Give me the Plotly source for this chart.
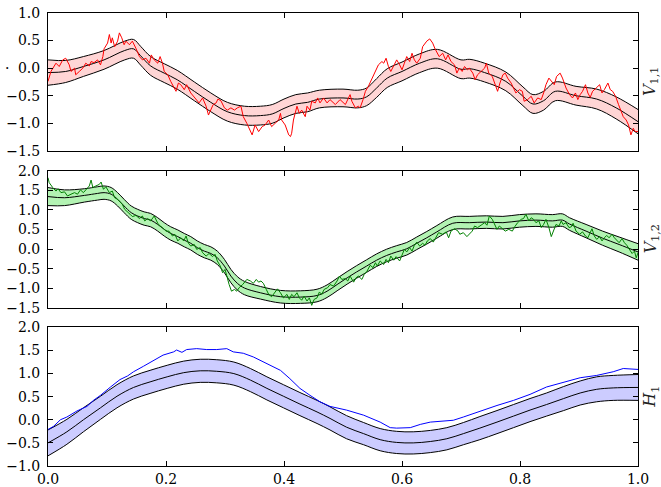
import plotly.graph_objects as go

# ---------------- data ----------------
x_ticks = [0.0, 0.2, 0.4, 0.6, 0.8, 1.0]
x_ticktext = ["0.0", "0.2", "0.4", "0.6", "0.8", "1.0"]

# Panel 1: V_{1,1}
v11_x = [0.0, 0.03, 0.06, 0.095, 0.13, 0.145, 0.157, 0.174, 0.197, 0.219, 0.248, 0.276, 0.304, 0.333,
         0.36, 0.38, 0.40, 0.42, 0.44, 0.46, 0.50, 0.525, 0.54, 0.557, 0.575, 0.60, 0.63, 0.66,
         0.70, 0.715, 0.74, 0.776, 0.805, 0.822, 0.84, 0.86, 0.895, 0.93, 0.963, 1.0]
v11_mean = [-0.08, -0.06, 0.03, 0.15, 0.32, 0.35, 0.225, 0.04, -0.09, -0.21, -0.42, -0.62, -0.79, -0.86,
            -0.86, -0.83, -0.73, -0.65, -0.62, -0.56, -0.54, -0.56, -0.52, -0.36, -0.18, -0.06, 0.09, 0.17,
            -0.02, -0.01, -0.08, -0.24, -0.51, -0.65, -0.59, -0.42, -0.50, -0.56, -0.72, -0.97]
v11_hw = [0.23, 0.2, 0.18, 0.17, 0.17, 0.17, 0.17, 0.17, 0.17, 0.17, 0.17, 0.17, 0.17, 0.17,
          0.17, 0.17, 0.17, 0.17, 0.17, 0.16, 0.16, 0.16, 0.16, 0.17, 0.17, 0.17, 0.17, 0.17,
          0.17, 0.17, 0.17, 0.17, 0.17, 0.17, 0.17, 0.17, 0.17, 0.18, 0.2, 0.22]
v11_obs_x = [0.0, 0.005, 0.0135, 0.019, 0.025, 0.030, 0.036, 0.039, 0.045, 0.047, 0.053, 0.059, 0.064, 0.070,
             0.073, 0.078, 0.084, 0.089, 0.093, 0.095, 0.101, 0.104, 0.107, 0.109, 0.113, 0.118, 0.121, 0.125,
             0.129, 0.132, 0.138, 0.143, 0.149, 0.155, 0.160, 0.166, 0.172, 0.175, 0.180, 0.186, 0.190, 0.194,
             0.197, 0.203, 0.208, 0.214, 0.217, 0.221, 0.225, 0.231, 0.235, 0.242, 0.251, 0.256, 0.262, 0.268,
             0.272, 0.276, 0.280, 0.285, 0.288, 0.293, 0.299, 0.304, 0.310, 0.316, 0.321, 0.327, 0.331,
             0.337, 0.346, 0.351, 0.357, 0.363, 0.368, 0.374, 0.379, 0.385, 0.391, 0.394, 0.396, 0.402,
             0.408, 0.411, 0.413, 0.416, 0.422, 0.426, 0.430, 0.436, 0.439, 0.444, 0.447, 0.453, 0.457,
             0.461, 0.467, 0.473, 0.478, 0.487, 0.495, 0.504, 0.509, 0.512, 0.515, 0.521, 0.526, 0.529,
             0.534, 0.538, 0.543, 0.551, 0.555, 0.560, 0.566, 0.569, 0.573, 0.577, 0.581, 0.586, 0.591,
             0.596, 0.600, 0.604, 0.608, 0.613, 0.617, 0.621, 0.625, 0.631, 0.635, 0.642, 0.647, 0.652,
             0.656, 0.663, 0.669, 0.674, 0.678, 0.683, 0.689, 0.693, 0.697, 0.702, 0.706, 0.711, 0.714,
             0.720, 0.724, 0.728, 0.734, 0.740, 0.743, 0.747, 0.753, 0.758, 0.762, 0.766, 0.771, 0.775,
             0.779, 0.785, 0.789, 0.793, 0.799, 0.804, 0.807, 0.813, 0.819, 0.824, 0.830, 0.836, 0.840,
             0.844, 0.849, 0.853, 0.858, 0.862, 0.868, 0.872, 0.878, 0.884, 0.889, 0.894, 0.898, 0.902,
             0.906, 0.911, 0.915, 0.919, 0.923, 0.929, 0.935, 0.939, 0.943, 0.949, 0.953, 0.957, 0.962,
             0.967, 0.971, 0.975, 0.980, 0.984, 0.988, 0.992, 0.995, 1.0]
v11_obs = [-0.24, -0.06, 0.09, 0.03, 0.15, 0.18, 0.06, -0.06, 0.0, -0.12, -0.06, 0.0, 0.09, 0.04,
           0.12, 0.10, 0.15, 0.06, 0.21, 0.35, 0.455, 0.61, 0.455, 0.55, 0.39, 0.49, 0.64, 0.55,
           0.425, 0.49, 0.425, 0.49, 0.36, 0.21, 0.15, 0.18, 0.09, 0.24, 0.15, 0.09, 0.21, 0.09,
           -0.06, -0.12, -0.24, -0.36, -0.42, -0.27, -0.30, -0.39, -0.30, -0.45, -0.57, -0.63, -0.54, -0.69,
           -0.85, -0.76, -0.66, -0.63, -0.56, -0.59, -0.72, -0.76, -0.72, -0.76, -0.72, -0.69, -0.88,
           -1.0, -1.21, -1.03, -1.15, -1.06, -1.03, -0.94, -1.06, -1.0, -0.94, -0.82, -0.94, -1.03,
           -1.21, -1.24, -1.18, -0.94, -0.69, -0.82, -0.76, -0.88, -0.69, -0.76, -0.60, -0.63, -0.54,
           -0.63, -0.54, -0.63, -0.57, -0.66, -0.57, -0.66, -0.54, -0.48, -0.60, -0.72, -0.69, -0.72,
           -0.57, -0.42, -0.33, -0.15, -0.06, 0.06, 0.12, 0.09, 0.18, 0.03, -0.06, 0.06, 0.15,
           0.06, -0.03, 0.09, 0.21, 0.12, 0.27, 0.15, 0.09, 0.18, 0.39, 0.49, 0.53, 0.455,
           0.35, 0.21, 0.27, 0.15, 0.24, 0.12, 0.06, -0.09, 0.0, -0.06, 0.03, -0.03, 0.0,
           -0.09, -0.21, -0.12, -0.06, 0.0, 0.09, -0.09, -0.15, -0.30, -0.42, -0.27, -0.12, -0.09,
           -0.18, -0.27, -0.36, -0.45, -0.39, -0.42, -0.60, -0.57, -0.51, -0.63, -0.54, -0.57, -0.45,
           -0.30, -0.18, -0.24, -0.30, -0.15, -0.09, -0.18, -0.36, -0.48, -0.54, -0.45, -0.57, -0.48,
           -0.42, -0.30, -0.45, -0.53, -0.42, -0.36, -0.30, -0.45, -0.39, -0.27, -0.39, -0.42, -0.51,
           -0.66, -0.76, -0.88, -0.94, -1.03, -1.21, -1.09, -1.15, -1.15]

# Panel 2: V_{1,2}
v12_x = [0.0, 0.028, 0.062, 0.084, 0.095, 0.107, 0.118, 0.129, 0.141, 0.152, 0.163, 0.174, 0.186, 0.197,
         0.208, 0.220, 0.231, 0.242, 0.253, 0.265, 0.276, 0.287, 0.299, 0.310, 0.321, 0.333, 0.36, 0.394,
         0.428, 0.456, 0.473, 0.49, 0.507, 0.523, 0.54, 0.557, 0.574, 0.591, 0.608, 0.625, 0.642, 0.659,
         0.686, 0.714, 0.743, 0.771, 0.799, 0.827, 0.855, 0.872, 0.884, 0.912, 0.94, 0.968, 1.0]
v12_mean = [1.34, 1.31, 1.37, 1.42, 1.44, 1.40, 1.27, 1.10, 0.93, 0.845, 0.78, 0.74, 0.63, 0.505,
            0.40, 0.32, 0.23, 0.15, 0.04, -0.05, -0.11, -0.22, -0.43, -0.685, -0.87, -0.99, -1.11, -1.21,
            -1.22, -1.18, -1.07, -0.90, -0.73, -0.58, -0.43, -0.28, -0.16, -0.07, 0.01, 0.15, 0.29, 0.44,
            0.66, 0.675, 0.69, 0.675, 0.72, 0.74, 0.72, 0.74, 0.64, 0.46, 0.28, 0.12, -0.07]
v12_hw = [0.23, 0.2, 0.17, 0.17, 0.17, 0.17, 0.17, 0.17, 0.17, 0.17, 0.17, 0.17, 0.17, 0.17,
          0.17, 0.17, 0.17, 0.17, 0.17, 0.17, 0.17, 0.17, 0.17, 0.17, 0.17, 0.17, 0.16, 0.16,
          0.16, 0.16, 0.16, 0.16, 0.16, 0.16, 0.16, 0.16, 0.16, 0.16, 0.16, 0.16, 0.16, 0.16,
          0.16, 0.16, 0.16, 0.16, 0.16, 0.16, 0.16, 0.16, 0.16, 0.17, 0.18, 0.19, 0.21]
v12_obs_x = [0.0, 0.002, 0.008, 0.0135, 0.017, 0.022, 0.028, 0.033, 0.039, 0.045, 0.050, 0.055, 0.060, 0.066,
             0.070, 0.073, 0.076, 0.081, 0.087, 0.090, 0.094, 0.098, 0.104, 0.109, 0.113, 0.118, 0.122, 0.126,
             0.130, 0.135, 0.139, 0.143, 0.149, 0.155, 0.160, 0.164, 0.169, 0.174, 0.180, 0.186, 0.190, 0.194,
             0.200, 0.205, 0.211, 0.215, 0.220, 0.225, 0.230, 0.234, 0.238, 0.242, 0.248, 0.252, 0.258, 0.262,
             0.268, 0.273, 0.279, 0.283, 0.287, 0.292, 0.296, 0.300, 0.304, 0.307, 0.311, 0.316, 0.320, 0.324,
             0.330, 0.333, 0.337, 0.343, 0.348, 0.353, 0.357, 0.361, 0.365, 0.370, 0.374, 0.379, 0.385, 0.389,
             0.394, 0.399, 0.405, 0.409, 0.413, 0.417, 0.422, 0.426, 0.430, 0.434, 0.439, 0.443, 0.447, 0.451,
             0.456, 0.460, 0.464, 0.468, 0.474, 0.478, 0.484, 0.490, 0.494, 0.498, 0.504, 0.508, 0.512, 0.518,
             0.522, 0.526, 0.532, 0.536, 0.540, 0.546, 0.551, 0.555, 0.558, 0.563, 0.569, 0.573, 0.577, 0.581,
             0.586, 0.590, 0.596, 0.600, 0.604, 0.608, 0.613, 0.617, 0.621, 0.625, 0.630, 0.635, 0.639, 0.643,
             0.648, 0.653, 0.658, 0.662, 0.669, 0.675, 0.679, 0.683, 0.689, 0.695, 0.698, 0.704, 0.710, 0.714,
             0.719, 0.723, 0.728, 0.734, 0.740, 0.744, 0.748, 0.753, 0.757, 0.761, 0.765, 0.771, 0.775, 0.781,
             0.787, 0.791, 0.796, 0.802, 0.806, 0.810, 0.815, 0.819, 0.823, 0.827, 0.832, 0.836, 0.840, 0.844,
             0.849, 0.853, 0.857, 0.861, 0.866, 0.870, 0.873, 0.878, 0.883, 0.887, 0.890, 0.895, 0.901, 0.906,
             0.911, 0.915, 0.919, 0.922, 0.926, 0.930, 0.935, 0.939, 0.943, 0.947, 0.951, 0.956, 0.960, 0.964,
             0.968, 0.973, 0.977, 0.981, 0.985, 0.990, 0.994, 0.997, 1.0]
v12_obs = [1.82, 1.695, 1.57, 1.48, 1.54, 1.44, 1.46, 1.355, 1.40, 1.44, 1.40, 1.51, 1.44, 1.54,
           1.61, 1.76, 1.57, 1.61, 1.65, 1.71, 1.525, 1.59, 1.44, 1.48, 1.31, 1.27, 1.20, 1.14,
           1.015, 0.93, 0.89, 0.83, 0.86, 0.78, 0.845, 0.72, 0.78, 0.72, 0.845, 0.66, 0.59, 0.55,
           0.46, 0.46, 0.335, 0.38, 0.21, 0.29, 0.21, 0.335, 0.15, 0.08, 0.12, -0.005, 0.04, -0.09,
           -0.175, -0.11, -0.19, -0.13, -0.30, -0.43, -0.60, -0.515, -0.77, -0.90, -1.07, -1.025, -1.07, -0.98,
           -0.90, -0.855, -0.77, -0.81, -0.87, -0.77, -0.84, -0.81, -0.87, -1.025, -1.15, -1.21, -1.09, -1.01,
           -1.11, -1.24, -1.15, -1.28, -1.15, -1.21, -1.11, -1.24, -1.30, -1.195, -1.32, -1.24, -1.43, -1.28,
           -1.24, -1.09, -1.15, -1.025, -0.98, -0.90, -0.94, -0.81, -0.685, -0.77, -0.75, -0.81, -0.685, -0.84,
           -0.73, -0.685, -0.77, -0.64, -0.58, -0.41, -0.47, -0.345, -0.43, -0.30, -0.39, -0.26, -0.345, -0.175,
           -0.28, -0.19, -0.30, -0.13, -0.005, -0.07, 0.04, -0.05, 0.10, 0.18, 0.08, 0.15, 0.10, 0.21,
           0.27, 0.18, 0.335, 0.42, 0.38, 0.44, 0.29, 0.46, 0.52, 0.46, 0.38, 0.42, 0.32, 0.38,
           0.46, 0.59, 0.55, 0.61, 0.675, 0.61, 0.845, 0.76, 0.63, 0.505, 0.59, 0.505, 0.46, 0.505,
           0.46, 0.57, 0.675, 0.76, 0.78, 0.89, 0.72, 0.80, 0.76, 0.675, 0.72, 0.55, 0.63, 0.76,
           0.55, 0.32, 0.505, 0.63, 0.59, 0.72, 0.63, 0.675, 0.55, 0.57, 0.66, 0.46, 0.38, 0.44,
           0.335, 0.29, 0.42, 0.52, 0.335, 0.25, 0.32, 0.21, 0.29, 0.35, 0.29, 0.38, 0.29, 0.23,
           0.165, 0.27, 0.165, 0.10, -0.005, -0.11, -0.05, -0.22, -0.09]

# Panel 3: H_1
h1_x = [0.0, 0.032, 0.060, 0.089, 0.117, 0.145, 0.173, 0.202, 0.230, 0.258, 0.286, 0.315, 0.343, 0.371,
        0.399, 0.427, 0.456, 0.478, 0.506, 0.535, 0.563, 0.591, 0.619, 0.648, 0.676, 0.704, 0.732, 0.761,
        0.789, 0.817, 0.845, 0.874, 0.902, 0.930, 0.958, 1.0]
h1_mean = [-0.50, -0.26, 0.0, 0.26, 0.51, 0.70, 0.82, 0.93, 1.02, 1.06, 1.05, 1.0, 0.86, 0.68,
           0.51, 0.34, 0.17, 0.03, -0.16, -0.30, -0.43, -0.49, -0.50, -0.47, -0.41, -0.30, -0.18, -0.05,
           0.08, 0.21, 0.33, 0.46, 0.58, 0.66, 0.69, 0.70]
h1_hw = [0.28, 0.27, 0.26, 0.25, 0.25, 0.25, 0.25, 0.25, 0.25, 0.25, 0.25, 0.25, 0.25, 0.25,
         0.25, 0.25, 0.25, 0.25, 0.25, 0.24, 0.24, 0.24, 0.24, 0.24, 0.24, 0.24, 0.25, 0.25,
         0.25, 0.25, 0.25, 0.26, 0.26, 0.27, 0.27, 0.28]
h1_obs_x = [0.0, 0.0096, 0.021, 0.032, 0.049, 0.066, 0.077, 0.089, 0.106, 0.122, 0.135, 0.145, 0.162, 0.179,
            0.195, 0.213, 0.218, 0.227, 0.235, 0.252, 0.269, 0.286, 0.303, 0.314, 0.331, 0.348, 0.371, 0.394,
            0.410, 0.427, 0.444, 0.461, 0.478, 0.506, 0.535, 0.563, 0.580, 0.591, 0.614, 0.631, 0.648, 0.670,
            0.687, 0.704, 0.732, 0.761, 0.789, 0.817, 0.845, 0.874, 0.902, 0.930, 0.958, 0.975, 0.998, 1.0]
h1_obs = [-0.21, -0.14, 0.0, 0.06, 0.19, 0.29, 0.42, 0.53, 0.71, 0.87, 0.95, 1.04, 1.16, 1.28,
          1.40, 1.47, 1.51, 1.46, 1.52, 1.54, 1.52, 1.52, 1.54, 1.47, 1.44, 1.36, 1.22, 1.07,
          0.89, 0.68, 0.53, 0.39, 0.29, 0.21, 0.10, -0.05, -0.17, -0.18, -0.17, -0.10, -0.05, -0.03,
          -0.01, 0.06, 0.19, 0.31, 0.42, 0.55, 0.71, 0.82, 0.91, 0.96, 1.04, 1.11, 1.09, 1.09]

panels = [
    dict(x=v11_x, mean=v11_mean, hw=v11_hw, ox=v11_obs_x, oy=v11_obs,
         line="#ff0000", fill="#ffd5d5", yr=[-1.5, 1.0],
         yt=[-1.5, -1.0, -0.5, 0.0, 0.5, 1.0],
         ytt=["\u22121.5", "\u22121.0", "\u22120.5", "0.0", "0.5", "1.0"],
         label="<i>V</i><sub>1,1</sub>", dom=[0.6956, 1.0]),
    dict(x=v12_x, mean=v12_mean, hw=v12_hw, ox=v12_obs_x, oy=v12_obs,
         line="#008000", fill="#b3f3b3", yr=[-1.5, 2.0],
         yt=[-1.5, -1.0, -0.5, 0.0, 0.5, 1.0, 1.5, 2.0],
         ytt=["\u22121.5", "\u22121.0", "\u22120.5", "0.0", "0.5", "1.0", "1.5", "2.0"],
         label="<i>V</i><sub>1,2</sub>", dom=[0.3486, 0.652]),
    dict(x=h1_x, mean=h1_mean, hw=h1_hw, ox=h1_obs_x, oy=h1_obs,
         line="#0000ff", fill="#ccccff", yr=[-1.0, 2.0],
         yt=[-1.0, -0.5, 0.0, 0.5, 1.0, 1.5, 2.0],
         ytt=["\u22121.0", "\u22120.5", "0.0", "0.5", "1.0", "1.5", "2.0"],
         label="<i>H</i><sub>1</sub>", dom=[0.0, 0.306]),
]

fig = go.Figure()
FONT = "DejaVu Serif"
layout = dict(
    width=661, height=487,
    margin=dict(l=48, r=23, t=13, b=21, pad=0),
    autosize=False,
    paper_bgcolor="white", plot_bgcolor="white",
    showlegend=False,
    font=dict(family=FONT, size=14, color="black"),
)
annotations = []
for i, p in enumerate(panels):
    n = "" if i == 0 else str(i + 1)
    xa, ya = "x" + n, "y" + n
    upper = [m + h for m, h in zip(p["mean"], p["hw"])]
    lower = [m - h for m, h in zip(p["mean"], p["hw"])]
    fig.add_trace(go.Scatter(x=p["x"], y=lower, mode="lines", line=dict(width=0, shape="spline"),
                             xaxis=xa, yaxis=ya, hoverinfo="skip"))
    fig.add_trace(go.Scatter(x=p["x"], y=upper, mode="lines", line=dict(width=0, shape="spline"),
                             fill="tonexty", fillcolor=p["fill"], xaxis=xa, yaxis=ya, hoverinfo="skip"))
    for arr in (upper, lower, p["mean"]):
        fig.add_trace(go.Scatter(x=p["x"], y=arr, mode="lines",
                                 line=dict(color="black", width=1, shape="spline"),
                                 xaxis=xa, yaxis=ya))
    fig.add_trace(go.Scatter(x=p["ox"], y=p["oy"], mode="lines",
                             line=dict(color=p["line"], width=1),
                             xaxis=xa, yaxis=ya))
    layout["xaxis" + n] = dict(
        domain=[0, 1], anchor=ya, range=[0, 1], tickvals=x_ticks, ticktext=x_ticktext,
        showticklabels=(i == 2), ticks="inside", ticklen=5, tickcolor="black",
        showline=True, linecolor="black", linewidth=1, mirror="ticks",
        showgrid=False, zeroline=False, tickfont=dict(family=FONT, size=14),
        ticklabelstandoff=0, automargin=False,
    )
    layout["yaxis" + n] = dict(
        domain=p["dom"], anchor=xa, range=p["yr"], tickvals=p["yt"], ticktext=p["ytt"],
        ticks="inside", ticklen=5, tickcolor="black",
        showline=True, linecolor="black", linewidth=1, mirror="ticks",
        showgrid=False, zeroline=False, tickfont=dict(family=FONT, size=14),
        ticklabelstandoff=4, automargin=False,
    )
    annotations.append(dict(
        text=p["label"], xref="paper", yref="paper", x=1.0, xanchor="center", xshift=13,
        y=(p["dom"][0] + p["dom"][1]) / 2, yanchor="middle", textangle=-90, showarrow=False,
        font=dict(family=FONT, size=16, color="#222222"),
    ))

annotations.append(dict(text=".", xref="paper", yref="paper", x=-0.07, xanchor="center",
                        y=0.87, yanchor="middle", yshift=8, showarrow=False,
                        font=dict(family=FONT, size=14, color="black")))
layout["annotations"] = annotations
fig.update_layout(**layout)
fig.write_html("out.html",
               config={"displayModeBar": False},
               post_script="document.body.style.margin='0';document.body.style.padding='0';"
                           "document.body.style.overflow='hidden';")
